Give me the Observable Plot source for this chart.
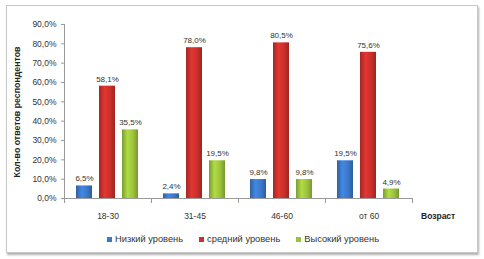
<!DOCTYPE html>
<html>
<head>
<meta charset="utf-8">
<script src="https://cdn.jsdelivr.net/npm/d3@7"></script>
<script src="https://cdn.jsdelivr.net/npm/@observablehq/plot@0.6"></script>
<style>
  html, body { margin: 0; padding: 0; background: #fff; }
  body { width: 484px; height: 259px; position: relative; overflow: hidden; font-family: "Liberation Sans", Arial, sans-serif; }
  #frame { position: absolute; left: 6px; top: 5px; width: 470px; height: 246px; border: 1px solid #c8c8c8; box-shadow: 1px 2px 2px #b0b0b0; background: #fff; }
  #chart { position: absolute; left: 0; top: 0; }
  #ytitle { position: absolute; left: 17px; top: 112px; transform: translate(-50%, -50%) rotate(-90deg); font-size: 8.8px; font-weight: bold; color: #222; white-space: nowrap; }
  #xtitle { position: absolute; left: 421px; top: 211px; font-size: 8.5px; font-weight: bold; color: #222; }
  #legend { position: absolute; left: 107px; top: 234px; font-size: 9.3px; color: #333; display: flex; gap: 16px; }
  #legend span.item { display: flex; align-items: center; gap: 3px; }
  #legend span.sw { width: 5px; height: 5px; display: inline-block; }
</style>
</head>
<body>
<div id="frame"></div>
<div id="chart"></div>
<div id="ytitle">Кол-во ответов респондентов</div>
<div id="xtitle">Возраст</div>
<div id="legend"></div>
<script>
const ages = ["18-30", "31-45", "46-60", "от 60"];
const levels = ["Низкий уровень", "средний уровень", "Высокий уровень"];
const low = [6.5, 2.4, 9.8, 19.5];
const mid = [58.1, 78.0, 80.5, 75.6];
const high = [35.5, 19.5, 9.8, 4.9];
const yTicks = [0, 10, 20, 30, 40, 50, 60, 70, 80, 90];
const colors = ["#3b78c8", "#c9302b", "#9bc23c"];
const gradIds = ["gLow", "gMid", "gHigh"];

const series = [low, mid, high];
const data = [];
ages.forEach((a, i) => levels.forEach((l, j) => data.push({age: a, level: l, value: series[j][i]})));

const fmt = v => v.toFixed(1).replace(".", ",") + "%";

const plot = Plot.plot({
  width: 484,
  height: 225,
  marginTop: 24,
  marginBottom: 27,
  marginLeft: 62,
  marginRight: 71,
  style: {fontFamily: "Liberation Sans, Arial, sans-serif", fontSize: "8.5px", color: "#333", background: "transparent"},
  fx: {domain: ages, paddingInner: 0, paddingOuter: 0, label: null},
  x: {domain: levels, paddingInner: 0.29, paddingOuter: 0.47, axis: null},
  y: {domain: [0, 90], label: null},
  color: {domain: levels, range: gradIds.map(id => `url(#${id})`)},
  marks: [
    Plot.barY(data, {fx: "age", x: "level", y: "value", fill: "level"}),
    Plot.text(data, {fx: "age", x: "level", y: "value", text: d => fmt(d.value), dy: -7, fill: "#333", fontSize: 8}),
    Plot.ruleY([0], {stroke: "#9a9a9a"}),
    Plot.frame({anchor: "left", facetAnchor: "left", stroke: "#9a9a9a"}),
    Plot.frame({anchor: "left", insetTop: 174, insetBottom: -4, stroke: "#9a9a9a"}),
    Plot.frame({anchor: "right", facetAnchor: "right", insetTop: 174, insetBottom: -4, stroke: "#9a9a9a"}),
    Plot.axisY({ticks: yTicks, tickFormat: fmt, tickSize: 3, tickPadding: 5, stroke: "#9a9a9a", fill: "#333", label: null}),
    Plot.axisFx({anchor: "bottom", tickSize: 0, tickPadding: 14, label: null, fill: "#333"})
  ]
});

// gradients for cylinder-like bars
const svg = d3.select(plot);
const defs = svg.insert("defs", ":first-child");
gradIds.forEach((id, i) => {
  const c = d3.color(colors[i]);
  const g = defs.append("linearGradient").attr("id", id).attr("x1", "0").attr("x2", "1").attr("y1", "0").attr("y2", "0");
  g.append("stop").attr("offset", "0%").attr("stop-color", c.darker(0.6));
  g.append("stop").attr("offset", "35%").attr("stop-color", c.brighter(0.35));
  g.append("stop").attr("offset", "70%").attr("stop-color", c);
  g.append("stop").attr("offset", "100%").attr("stop-color", c.darker(0.7));
});

document.getElementById("chart").appendChild(plot);

const legend = document.getElementById("legend");
levels.forEach((l, i) => {
  const item = document.createElement("span");
  item.className = "item";
  const sw = document.createElement("span");
  sw.className = "sw";
  sw.style.background = colors[i];
  item.appendChild(sw);
  item.appendChild(document.createTextNode(l));
  legend.appendChild(item);
});
</script>
</body>
</html>
